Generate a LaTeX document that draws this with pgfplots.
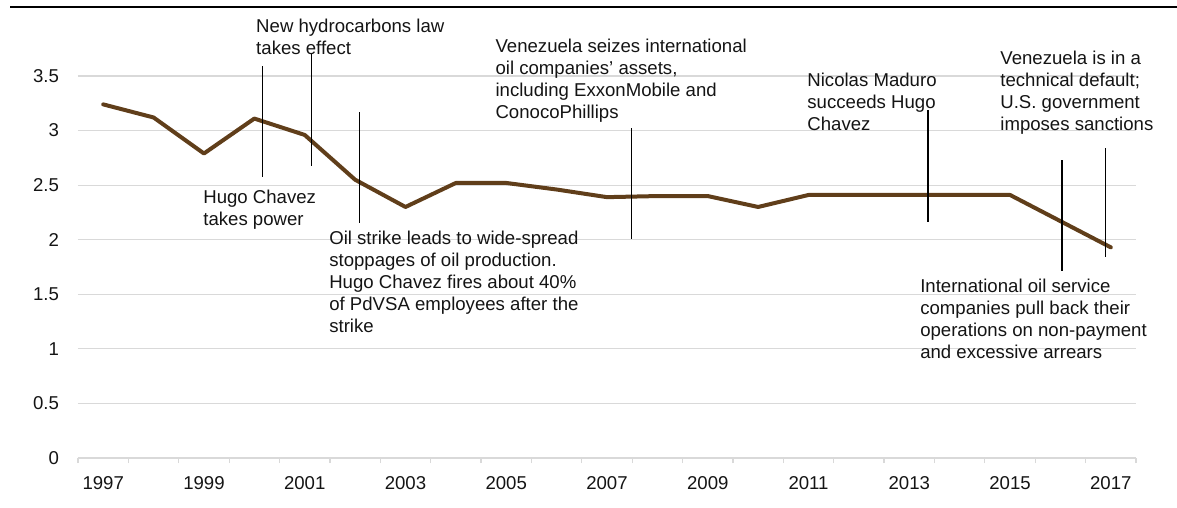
\documentclass[border=0pt]{standalone}
\usepackage{fontspec}
\setmainfont{Liberation Sans}
\usepackage{pgfplots}
\pgfplotsset{compat=1.18}
\definecolor{brownline}{RGB}{96,62,26}
\definecolor{gridgray}{RGB}{217,217,217}
\definecolor{txt}{RGB}{20,20,20}
\newcommand\f{\fontsize{9.3pt}{11pt}\selectfont}
\pgfplotstableread{
year value
1997 3.24
1998 3.12
1999 2.79
2000 3.11
2001 2.96
2002 2.55
2003 2.30
2004 2.52
2005 2.52
2006 2.46
2007 2.39
2008 2.40
2009 2.40
2010 2.30
2011 2.41
2012 2.41
2013 2.41
2014 2.41
2015 2.41
2016 2.17
2017 1.93
}\datatable
\begin{document}
\begin{tikzpicture}
\useasboundingbox (0,0) rectangle (588.5pt,254pt);
\draw[black, line width=1pt] (5pt,250.5pt) -- (588.5pt,250.5pt);
\begin{axis}[
  at={(39pt,25pt)}, anchor=south west,
  scale only axis, width=529pt, height=191pt,
  xmin=1996.5, xmax=2017.5, ymin=0, ymax=3.5,
  clip=false,
  axis x line*=bottom, axis y line*=left,
  x axis line style={draw=gridgray, line width=0.6pt},
  y axis line style={draw=none},
  ytick={0,0.5,1,1.5,2,2.5,3,3.5},
  yticklabels={0,0.5,1,1.5,2,2.5,3,3.5},
  xtick={1997,1999,2001,2003,2005,2007,2009,2011,2013,2015,2017},
  xticklabels={1997,1999,2001,2003,2005,2007,2009,2011,2013,2015,2017},
  major tick length=0pt,
  extra x ticks={1996.5,1997.5,...,2017.5},
  extra x tick labels={},
  extra x tick style={grid=none, major tick length=2.5pt, tick align=outside, tick style={draw=gridgray, line width=0.6pt}},
  ymajorgrids,
  grid style={draw=gridgray, line width=0.6pt},
  ticklabel style={font=\f, text=txt},
  xticklabel style={anchor=north, inner sep=0pt, yshift=-9pt},
  yticklabel style={anchor=east, inner sep=0pt, xshift=-9.3pt},
]
\addplot[brownline, line width=2pt, line join=round, line cap=round] table[x=year, y=value] {\datatable};

\draw[black, line width=0.6pt] (axis cs:2000.17,3.59) -- (axis cs:2000.17,2.575);
\draw[black, line width=0.6pt] (axis cs:2001.14,3.71) -- (axis cs:2001.14,2.68);
\draw[black, line width=0.6pt] (axis cs:2002.08,3.17) -- (axis cs:2002.08,2.155);
\draw[black, line width=0.6pt] (axis cs:2007.48,3.02) -- (axis cs:2007.48,2.01);
\draw[black, line width=0.6pt] (axis cs:2013.37,3.19) -- (axis cs:2013.37,2.16);
\draw[black, line width=0.6pt] (axis cs:2016.90,2.84) -- (axis cs:2016.90,1.84);
\draw[black, line width=0.6pt] (axis cs:2016.03,2.73) -- (axis cs:2016.03,1.71);

\tikzset{ann/.style={anchor=north west, inner sep=0pt, align=left, font=\f, text=txt}}
\node[ann] at (axis cs:2000.03,4.03) {New hydrocarbons law\\takes effect};
\node[ann] at (axis cs:1998.98,2.457) {Hugo Chavez\\takes power};
\node[ann] at (axis cs:2001.48,2.081) {Oil strike leads to wide-spread\\stoppages of oil production.\\Hugo Chavez fires about 40\%\\of PdVSA employees after the\\strike};
\node[ann] at (axis cs:2004.78,3.838) {Venezuela seizes international\\oil companies' assets,\\including ExxonMobile and\\ConocoPhillips};
\node[ann] at (axis cs:2010.97,3.527) {Nicolas Maduro\\succeeds Hugo\\Chavez};
\node[ann] at (axis cs:2014.80,3.737) {Venezuela is in a\\technical default;\\U.S. government\\imposes sanctions};
\node[ann] at (axis cs:2013.21,1.642) {International oil service\\companies pull back their\\operations on non-payment\\and excessive arrears};
\end{axis}
\end{tikzpicture}
\end{document}
